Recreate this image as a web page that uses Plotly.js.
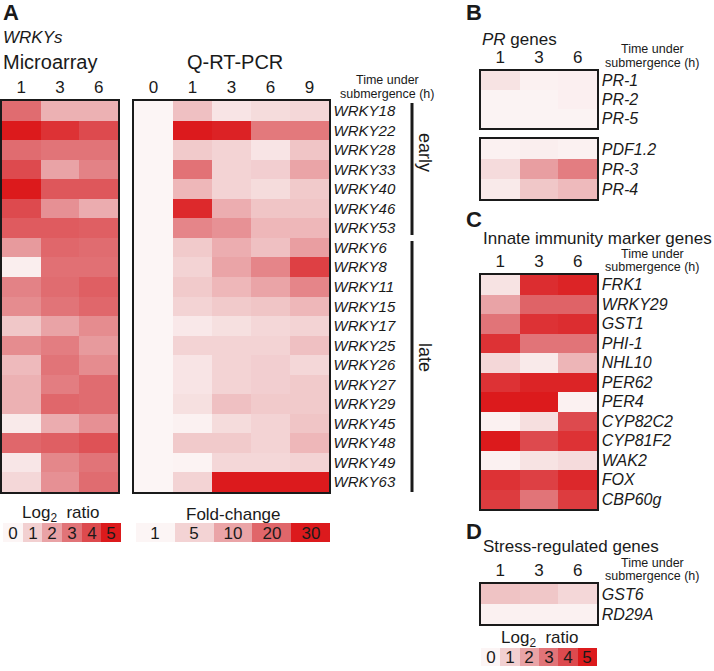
<!DOCTYPE html>
<html>
<head>
<meta charset="utf-8">
<script src="https://cdn.plot.ly/plotly-3.0.1.min.js"></script>
<style>html,body{margin:0;padding:0;background:#fff;}#chart{width:714px;height:671px;}</style>
</head>
<body>
<div id="chart"></div>
<script>
// ---------- DATA ----------
const microTimes = ['1', '3', '6'];
const qpcrTimes = ['0', '1', '3', '6', '9'];
const wrkyGenes = ['WRKY18','WRKY22','WRKY28','WRKY33','WRKY40','WRKY46','WRKY53',
  'WRKY6','WRKY8','WRKY11','WRKY15','WRKY17','WRKY25','WRKY26','WRKY27','WRKY29',
  'WRKY45','WRKY48','WRKY49','WRKY63'];
// Microarray log2 ratio (1, 3, 6 h)
const microLog2 = [
  [3.2,1.7,1.7],[5.0,4.5,4.0],[3.2,3.0,3.0],[4.0,2.0,2.7],[5.0,3.7,3.7],[4.0,2.4,1.8],[3.6,3.6,3.5],
  [2.2,3.3,3.2],[0.2,3.1,3.1],[2.7,3.2,3.5],[2.5,3.0,3.3],[1.2,2.0,2.5],[2.5,2.8,2.2],[1.5,3.0,2.5],
  [1.7,2.8,3.2],[1.7,3.3,3.2],[0.3,1.8,2.4],[3.3,3.5,3.8],[0.4,2.6,3.0],[0.8,2.4,3.2]
];
// Q-RT-PCR fold-change (0, 1, 3, 6, 9 h)
const qpcrFold = [
  [1,7,3,4,4.5],[1,30,29,17,17],[1,6,5,3,6.5],[1,18,5,5.5,10],[1,8,5,4,6],
  [1,28,9,6.5,6.5],[1,15,13,8,8],[1,6,9,7,11],[1,5,10,15,25],[1,6,8,10,15],
  [1,5,6,6.5,8],[1,2.5,3.5,4.5,5],[1,5,5,5,7],[1,3,5,5.5,4.5],[1,3,5,5.5,6],
  [1,3.5,7,6,6],[1,1.5,4,5,6.5],[1,6,6,5,8],[1,1.2,4.5,4.5,5],[1,5,30,30,30]
];
const prGenes1 = ['PR-1','PR-2','PR-5'];
const prLog2a = [[0.5,0.1,0.15],[0.05,0.05,0.15],[0.05,0.05,0.05]];
const prGenes2 = ['PDF1.2','PR-3','PR-4'];
const prLog2b = [[0.1,0.2,0.1],[0.7,2.1,2.8],[0.3,1.2,1.5]];
const immuneGenes = ['FRK1','WRKY29','GST1','PHI-1','NHL10','PER62','PER4','CYP82C2','CYP81F2','WAK2','FOX','CBP60g'];
const immuneLog2 = [
  [0.5,4.6,4.8],[2.0,3.4,3.4],[3.0,4.5,4.6],[4.5,3.0,3.0],[0.8,0.3,1.6],[4.5,4.8,4.8],
  [5.0,5.0,0.1],[0.1,0.6,4.0],[5.0,4.0,4.5],[0.1,0.5,0.7],[4.5,4.2,4.7],[4.3,3.0,4.3]
];
const stressGenes = ['GST6','RD29A'];
const stressLog2 = [[1.3,1.2,0.8],[0.1,0.1,0.1]];
// Legend keys
const log2Keys = [0,1,2,3,4,5];
const foldKeys = [1,5,10,20,30];

// ---------- STYLE ----------
const W = 714, H = 671;
const FONT = 'Liberation Sans, Arial, Helvetica, sans-serif';
const INK = '#1a1a1a';
const log2Scale = [[0,'#fcf5f5'],[0.2,'#f2d0d1'],[0.4,'#e9a3a6'],[0.6,'#e17478'],[0.8,'#dd4a4e'],[1,'#dc1a1c']];
const foldStops = ['#fcf5f5','#f3d3d4','#eaa4a7','#e0666a','#dc1a1d'];
const foldScale = foldKeys.map((k,i)=>[(k-foldKeys[0])/(foldKeys[foldKeys.length-1]-foldKeys[0]), foldStops[i]]);

const data = [];
const layout = {
  width: W, height: H, margin: {l:0,r:0,t:0,b:0},
  paper_bgcolor: '#fff', plot_bgcolor: '#fff',
  font: {family: FONT, color: INK},
  showlegend: false,
  annotations: [], shapes: []
};

function heat(n, box, xs, ys, z, scale, zmin, zmax, o) {
  o = o || {};
  const xa = n === 1 ? 'xaxis' : 'xaxis' + n, ya = n === 1 ? 'yaxis' : 'yaxis' + n;
  const xr = n === 1 ? 'x' : 'x' + n, yr = n === 1 ? 'y' : 'y' + n;
  const tr = {type:'heatmap', x: xs, y: ys, z: z, colorscale: scale, zmin: zmin, zmax: zmax,
    showscale: false, hoverinfo: 'skip', xaxis: xr, yaxis: yr, xgap: 0, ygap: 0};
  if (o.text) {
    tr.text = o.text; tr.texttemplate = '%{text}';
    tr.textfont = {size: 17, color: INK, family: FONT};
  }
  data.push(tr);
  const framed = !o.noFrame;
  layout[xa] = {domain: [box[0]/W, box[1]/W], anchor: yr, type: 'category', side: 'top',
    tickmode: 'array', tickvals: xs, ticktext: xs,
    showline: framed, mirror: framed, linecolor: INK, linewidth: 1.6, ticks: '',
    showgrid: false, zeroline: false, fixedrange: true,
    showticklabels: !!o.showX, tickfont: {size: 17, color: INK}};
  layout[ya] = {domain: [1 - box[3]/H, 1 - box[2]/H], anchor: xr, type: 'category', side: 'right',
    tickmode: 'array', tickvals: ys, ticktext: ys,
    autorange: 'reversed', showline: framed, mirror: framed, linecolor: INK, linewidth: 1.6, ticks: '',
    showgrid: false, zeroline: false, fixedrange: true,
    showticklabels: !o.hideY, tickfont: {size: o.ySize || 16, color: INK, style: 'italic'}};
}

// Panel A
heat(1, [2,118,101,492], microTimes, wrkyGenes, microLog2, log2Scale, 0, 5, {showX:true, hideY:true});
heat(2, [134,329,101,492], qpcrTimes, wrkyGenes, qpcrFold, foldScale, 1, 30, {showX:true, ySize:15});
// Panel B
heat(3, [481,597,71,128], microTimes, prGenes1, prLog2a, log2Scale, 0, 5, {showX:true});
heat(4, [481,597,139,199], microTimes, prGenes2, prLog2b, log2Scale, 0, 5, {});
// Panel C
heat(5, [481,597,275,509], microTimes, immuneGenes, immuneLog2, log2Scale, 0, 5, {showX:true});
// Panel D
heat(6, [481,597,584,624], microTimes, stressGenes, stressLog2, log2Scale, 0, 5, {showX:true});
// Legend keys
heat(7, [3,121,523,542], log2Keys.map(String), ['k'], [log2Keys], log2Scale, 0, 5, {noFrame:true, hideY:true, text:[log2Keys.map(String)]});
heat(8, [136,330,523,542], foldKeys.map(String), ['k'], [foldKeys], foldScale, 1, 30, {noFrame:true, hideY:true, text:[foldKeys.map(String)]});
heat(9, [481,597,648,666], log2Keys.map(String), ['k'], [log2Keys], log2Scale, 0, 5, {noFrame:true, hideY:true, text:[log2Keys.map(String)]});

// ---------- TEXT ----------
function txt(t, x, y, size, o) {
  o = o || {};
  layout.annotations.push(Object.assign({text: t, x: x/W, y: 1 - y/H, xref: 'paper', yref: 'paper',
    xanchor: 'left', yanchor: 'middle', showarrow: false,
    font: {size: size, color: INK, family: FONT, weight: o.bold ? 'bold' : 'normal', style: o.italic ? 'italic' : 'normal'}}, o.extra || {}));
}
function timeLabel(x, y1, y2) {
  txt('Time under', x, y1, 12.5, {extra:{xanchor:'center'}});
  txt('submergence (h)', x, y2, 12.5, {extra:{xanchor:'center'}});
}
txt('A', 1, 13, 22, {bold:true});
txt('WRKYs', 1, 37, 17, {italic:true});
txt('Microarray', 1, 62, 20);
txt('Q-RT-PCR', 235, 62, 20, {extra:{xanchor:'center'}});
timeLabel(387, 80, 94);
txt('early', 425, 152, 18, {extra:{xanchor:'center', textangle: 90}});
txt('late', 425, 357, 18, {extra:{xanchor:'center', textangle: 90}});
txt('Log<sub>2</sub>  ratio', 61, 514, 17, {extra:{xanchor:'center'}});
txt('Fold-change', 233, 514, 17, {extra:{xanchor:'center'}});

txt('B', 464, 13, 22, {bold:true});
txt('<i>PR</i> genes', 480, 40, 17);
timeLabel(652, 49, 63);

txt('C', 464, 220, 22, {bold:true});
txt('Innate immunity marker genes', 481, 238, 17);
timeLabel(652, 254, 267);

txt('D', 464, 531, 22, {bold:true});
txt('Stress-regulated genes', 481, 546, 17);
timeLabel(652, 563, 576);
txt('Log<sub>2</sub>  ratio', 540, 639, 17, {extra:{xanchor:'center'}});

// early / late brackets
layout.shapes.push({type:'line', xref:'paper', yref:'paper', x0:412/W, x1:412/W, y0:1-103/H, y1:1-235/H, line:{color:INK, width:3}});
layout.shapes.push({type:'line', xref:'paper', yref:'paper', x0:412/W, x1:412/W, y0:1-241/H, y1:1-492/H, line:{color:INK, width:3}});

Plotly.newPlot('chart', data, layout, {displayModeBar: false, staticPlot: true});
</script>
</body>
</html>
